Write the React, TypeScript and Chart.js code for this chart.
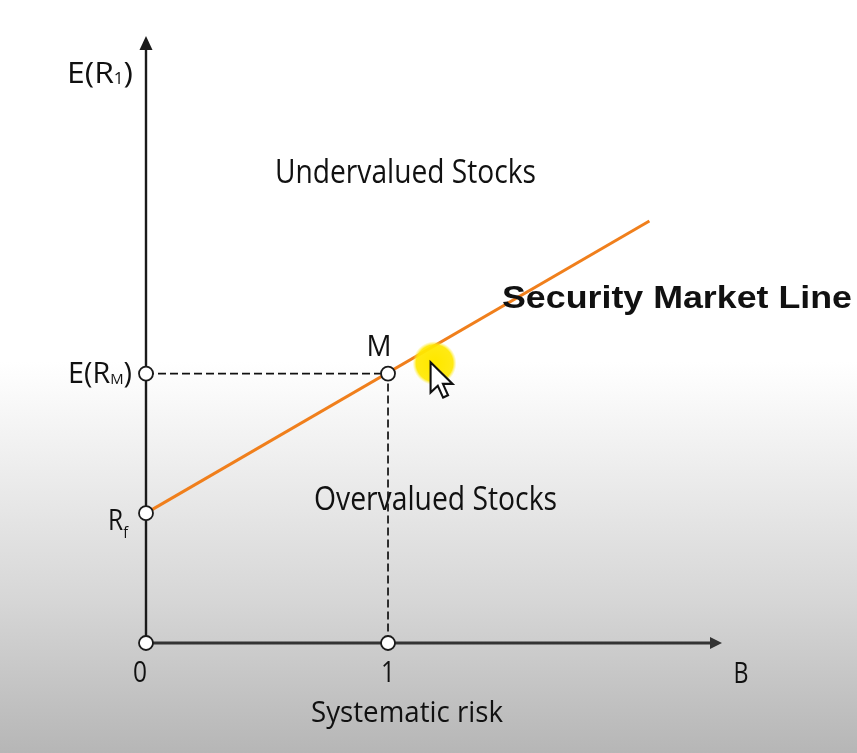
import React, { useEffect, useRef } from 'react';
import { Chart, registerables } from 'chart.js';

Chart.register(...registerables);

// ---- data (beta on x, expected return on y, arbitrary % units) ----
const riskFreeRate = 4;
const marketReturn = 8.3;
const marketBeta = 1;
const smlBetas = [0, 2.08];
const smlReturns = [4, 13.0];
const xAxisMax = 2.38;
const yAxisMax = 18.7;
const xTickValues = [0, 1];
const xTickLabels = ['0', '1'];
const xAxisName = 'B';
const xAxisTitle = 'Systematic risk';
const yAxisName = ['E(R', '1', ')'];
const marketLabel = ['E(R', 'M', ')'];
const riskFreeLabel = ['R', 'f'];
const marketPointLabel = 'M';
const smlLabel = 'Security Market Line';
const upperRegionLabel = 'Undervalued Stocks';
const lowerRegionLabel = 'Overvalued Stocks';
const cursorPos = { x: 1.18, y: 8.65 };

const FONT = '"Open Sans", "Noto Sans", sans-serif';
const BOLD_FONT = '"Liberation Sans", Arial, sans-serif';

type Seg = { t: string; sub?: boolean };

function drawRich(
  ctx: CanvasRenderingContext2D,
  segs: Seg[],
  x: number,
  baseline: number,
  size: number,
  opts: { width?: number; align?: 'left' | 'center' | 'right'; bold?: boolean; family?: string; subSize?: number; subDrop?: number; color?: string } = {}
) {
  const family = opts.family || FONT;
  const weight = opts.bold ? 'bold ' : '';
  const subSize = opts.subSize || size * 0.5;
  const subDrop = opts.subDrop ?? 1;
  ctx.save();
  ctx.textBaseline = 'alphabetic';
  ctx.textAlign = 'left';
  ctx.fillStyle = opts.color || '#111';
  let natural = 0;
  const widths: number[] = [];
  for (const s of segs) {
    ctx.font = `${weight}${s.sub ? subSize : size}px ${family}`;
    const w = ctx.measureText(s.t).width;
    widths.push(w);
    natural += w;
  }
  const scale = opts.width ? opts.width / natural : 1;
  const total = natural * scale;
  let left = x;
  if (opts.align === 'center') left = x - total / 2;
  else if (opts.align === 'right') left = x - total;
  ctx.translate(left, baseline);
  ctx.scale(scale, 1);
  let cx = 0;
  segs.forEach((s, i) => {
    ctx.font = `${weight}${s.sub ? subSize : size}px ${family}`;
    ctx.fillText(s.t, cx, s.sub ? subDrop : 0);
    cx += widths[i];
  });
  ctx.restore();
}

const decorPlugin = {
  id: 'smlDecor',
  beforeDraw(chart: any) {
    const { ctx, width, height } = chart;
    ctx.save();
    const g = ctx.createLinearGradient(0, 0, 0, height);
    g.addColorStop(0, '#ffffff');
    g.addColorStop(0.48, '#ffffff');
    g.addColorStop(0.6, '#f0f0f0');
    g.addColorStop(0.8, '#d6d6d6');
    g.addColorStop(1, '#b6b6b6');
    ctx.fillStyle = g;
    ctx.fillRect(0, 0, width, height);
    ctx.restore();
  },
  beforeDatasetsDraw(chart: any) {
    const { ctx } = chart;
    const xs = chart.scales.x;
    const ys = chart.scales.y;
    const x0 = xs.getPixelForValue(0);
    const y0 = ys.getPixelForValue(0);
    const xEnd = xs.getPixelForValue(xAxisMax);
    const yEnd = ys.getPixelForValue(yAxisMax);
    ctx.save();
    ctx.strokeStyle = '#1a1a1a';
    ctx.fillStyle = '#1a1a1a';
    ctx.lineWidth = 2.4;
    ctx.beginPath();
    ctx.moveTo(x0, y0);
    ctx.lineTo(x0, yEnd + 10);
    ctx.stroke();
    ctx.beginPath();
    ctx.moveTo(x0 - 6.5, yEnd + 14);
    ctx.lineTo(x0, yEnd);
    ctx.lineTo(x0 + 6.5, yEnd + 14);
    ctx.closePath();
    ctx.fill();
    ctx.strokeStyle = '#333';
    ctx.fillStyle = '#333';
    ctx.lineWidth = 2.8;
    ctx.beginPath();
    ctx.moveTo(x0, y0);
    ctx.lineTo(xEnd - 8, y0);
    ctx.stroke();
    ctx.beginPath();
    ctx.moveTo(xEnd - 12, y0 - 6);
    ctx.lineTo(xEnd, y0);
    ctx.lineTo(xEnd - 12, y0 + 6);
    ctx.closePath();
    ctx.fill();
    ctx.restore();
  },
  afterDatasetsDraw(chart: any) {
    const { ctx } = chart;
    const xs = chart.scales.x;
    const ys = chart.scales.y;
    const px = (v: number) => xs.getPixelForValue(v);
    const py = (v: number) => ys.getPixelForValue(v);
    const x0 = px(0);
    const y0 = py(0);

    // y axis name
    drawRich(ctx, [{ t: yAxisName[0] }, { t: yAxisName[1], sub: true }, { t: yAxisName[2] }], x0 - 13, 83, 30, { width: 66, align: 'right', subSize: 16, subDrop: 1 });
    // region labels
    drawRich(ctx, [{ t: upperRegionLabel }], 275, 183, 32, { width: 261 });
    drawRich(ctx, [{ t: lowerRegionLabel }], 314, 510, 32, { width: 243 });
    // SML label
    drawRich(ctx, [{ t: smlLabel }], 502, 308, 32, { width: 350, bold: true, family: BOLD_FONT });
    // M
    drawRich(ctx, [{ t: marketPointLabel }], px(marketBeta) - 9, py(marketReturn) - 18, 30, { width: 25, align: 'center' });
    // E(RM)
    drawRich(ctx, [{ t: marketLabel[0] }, { t: marketLabel[1], sub: true }, { t: marketLabel[2] }], x0 - 14, py(marketReturn) + 9, 29, { width: 64, align: 'right', subSize: 15, subDrop: 1 });
    // Rf
    drawRich(ctx, [{ t: riskFreeLabel[0] }, { t: riskFreeLabel[1], sub: true }], x0 - 18, py(riskFreeRate) + 17, 29, { width: 20, align: 'right', subSize: 17, subDrop: 8 });
    // ticks
    xTickValues.forEach((v, i) => {
      drawRich(ctx, [{ t: xTickLabels[i] }], px(v) - (v === 0 ? 6 : 0), y0 + 39, 30, { align: 'center', width: 14 });
    });
    drawRich(ctx, [{ t: xAxisName }], px(xAxisMax) + 19, y0 + 40, 30, { align: 'center', width: 15 });
    drawRich(ctx, [{ t: xAxisTitle }], 311, y0 + 79, 30, { width: 192 });

    // presenter's pointer highlight + cursor
    const cxp = px(cursorPos.x);
    const cyp = py(cursorPos.y);
    ctx.save();
    const hx = cxp + 3;
    const hy = cyp + 1;
    const rg = ctx.createRadialGradient(hx, hy, 4, hx, hy, 22);
    rg.addColorStop(0, 'rgba(255,232,0,1)');
    rg.addColorStop(0.8, 'rgba(255,232,0,0.92)');
    rg.addColorStop(1, 'rgba(255,240,80,0)');
    ctx.fillStyle = rg;
    ctx.beginPath();
    ctx.arc(hx, hy, 22, 0, Math.PI * 2);
    ctx.fill();
    ctx.translate(cxp - 1, cyp);
    ctx.scale(1.9, 1.9);
    ctx.beginPath();
    ctx.moveTo(0, 0);
    ctx.lineTo(0, 16);
    ctx.lineTo(3.8, 12.4);
    ctx.lineTo(6.6, 18.6);
    ctx.lineTo(9.2, 17.4);
    ctx.lineTo(6.5, 11.4);
    ctx.lineTo(11.6, 11.4);
    ctx.closePath();
    ctx.fillStyle = '#ffffff';
    ctx.fill();
    ctx.lineWidth = 1.1;
    ctx.strokeStyle = '#111';
    ctx.stroke();
    ctx.restore();
  },
};

export default function App() {
  const canvasRef = useRef<HTMLCanvasElement | null>(null);

  useEffect(() => {
    if (!canvasRef.current) return;
    const smlData = smlBetas.map((b, i) => ({ x: b, y: smlReturns[i] }));
    const guideData = [
      { x: 0, y: marketReturn },
      { x: marketBeta, y: marketReturn },
      { x: marketBeta, y: 0 },
    ];
    const keyPoints = [
      { x: 0, y: marketReturn },
      { x: marketBeta, y: marketReturn },
      { x: 0, y: riskFreeRate },
      { x: 0, y: 0 },
      { x: marketBeta, y: 0 },
    ];
    const chart = new Chart(canvasRef.current, {
      type: 'scatter',
      data: {
        datasets: [
          {
            label: 'points',
            data: keyPoints,
            showLine: false,
            pointRadius: 7,
            pointBackgroundColor: '#ffffff',
            pointBorderColor: '#1a1a1a',
            pointBorderWidth: 1.8,
            clip: false,
          } as any,
          {
            label: 'SML',
            data: smlData,
            showLine: true,
            borderColor: '#f07f1c',
            borderWidth: 3,
            pointRadius: 0,
            clip: false,
          } as any,
          {
            label: 'guides',
            data: guideData,
            showLine: true,
            borderColor: '#111111',
            borderWidth: 1.7,
            borderDash: [8, 4],
            pointRadius: 0,
            clip: false,
          } as any,
        ],
      },
      options: {
        responsive: false,
        animation: false,
        events: [],
        layout: { padding: { left: 146, right: 135, top: 36, bottom: 110 } },
        scales: {
          x: { type: 'linear', min: 0, max: xAxisMax, display: false },
          y: { type: 'linear', min: 0, max: yAxisMax, display: false },
        },
        plugins: {
          legend: { display: false },
          tooltip: { enabled: false },
          title: { display: false },
        },
      },
      plugins: [decorPlugin],
    });
    return () => chart.destroy();
  }, []);

  return (
    <div style={{ position: 'fixed', left: 0, top: 0, width: 857, height: 753 }}>
      <canvas ref={canvasRef} width={857} height={753} style={{ display: 'block', width: 857, height: 753 }} />
    </div>
  );
}
